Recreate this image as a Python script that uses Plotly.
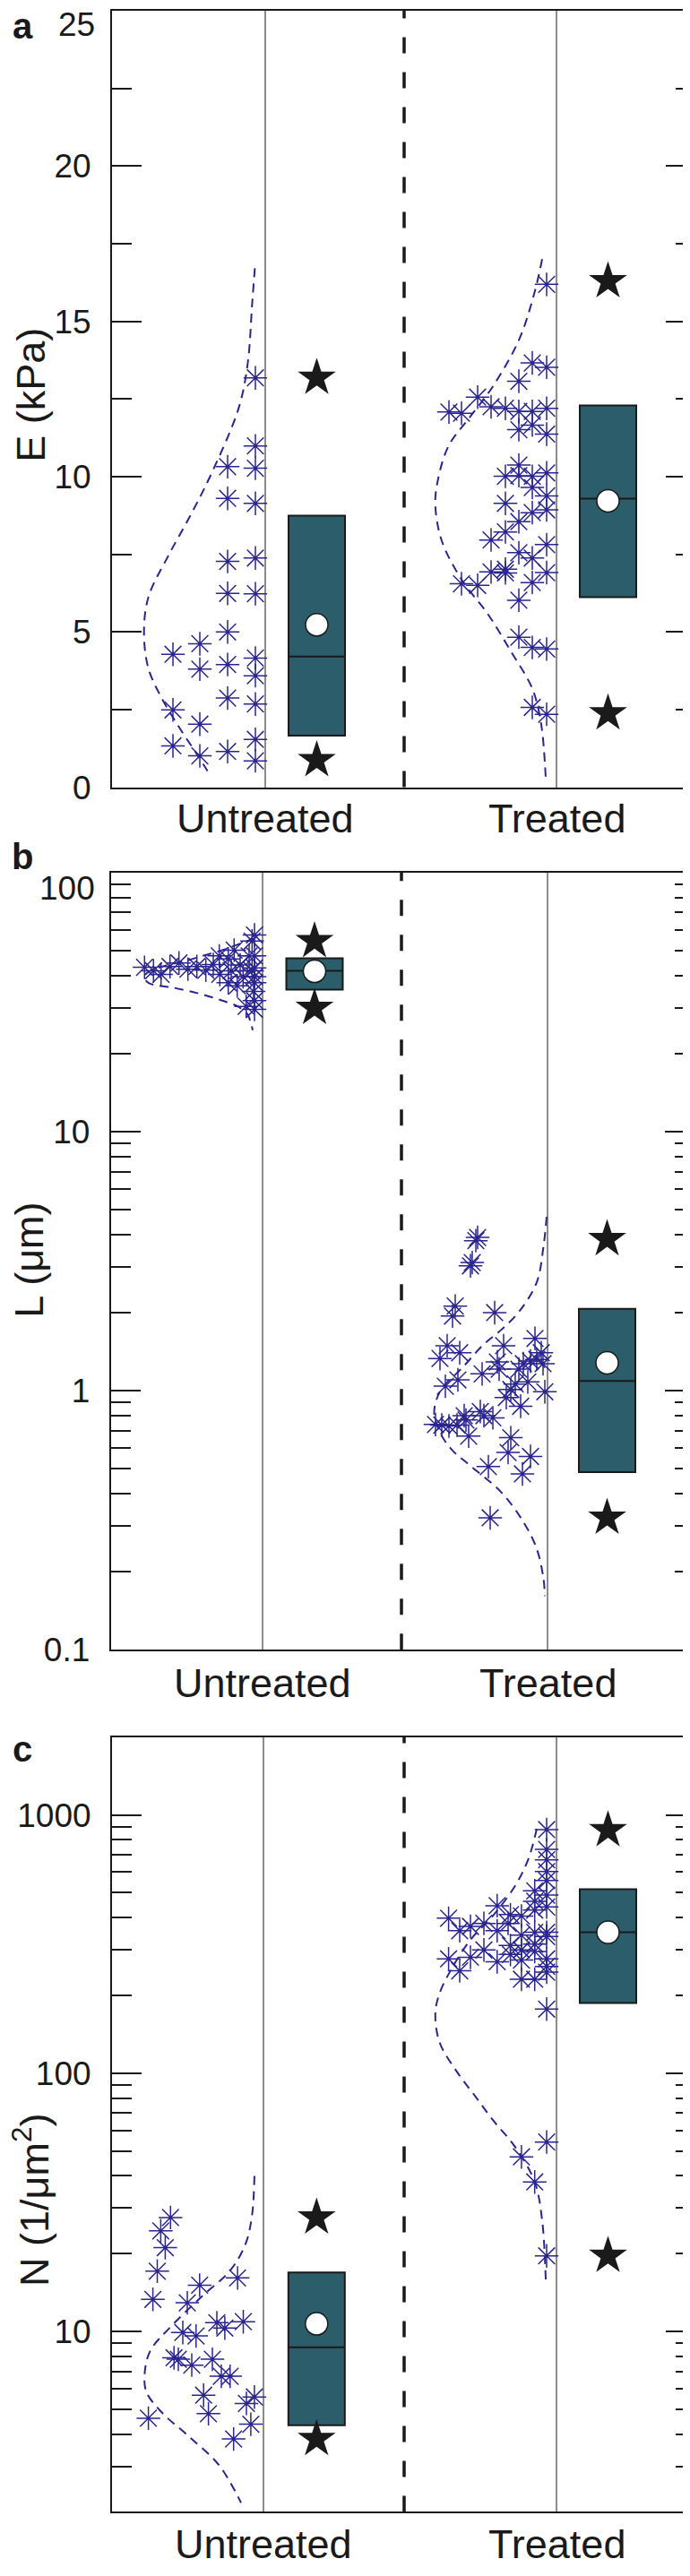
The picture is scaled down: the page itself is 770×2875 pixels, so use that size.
import numpy as np
import plotly.graph_objects as go

W, H = 770, 2875
categories = ["Untreated", "Treated"]

# ---------------- Panel a : E (kPa) ----------------
a_untr_vals = [13.18, 10.99, 10.32, 10.27, 9.30, 9.14, 7.27, 7.38, 6.24, 6.23, 5.00, 4.28, 4.62,
               3.80, 3.95, 4.16, 3.59, 2.87, 2.68, 2.49, 2.03, 1.33, 1.15, 1.54, 1.01, 0.85]
a_untr_jit = [-11, -11, -42, -11, -42, -11, -42, -11, -42, -11, -42, -103, -73,
              -73, -42, -11, -11, -42, -11, -103, -73, -103, -42, -11, -73, -11]
a_trt_vals = [16.19, 13.66, 13.52, 13.07, 12.56, 12.08, 12.04, 12.25, 12.20, 12.10, 12.10, 12.20,
              11.51, 11.66, 11.37, 10.37, 10.01, 10.03, 10.01, 10.12, 9.65, 9.38, 9.14, 8.93, 8.84,
              8.55, 8.22, 7.96, 7.81, 7.55, 7.38, 7.02, 6.93, 6.90, 6.91, 6.59, 6.55, 6.50, 6.02,
              4.83, 4.50, 4.45, 2.57, 2.35]
a_trt_jit = [-11, -27, -11, -42, -88, -120, -106, -73, -57, -42, -27, -11,
             -42, -27, -11, -42, -57, -42, -27, -11, -27, -11, -57, -11, -27,
             -42, -57, -73, -11, -42, -27, -57, -73, -57, -11, -27, -106, -88, -42,
             -42, -27, -11, -27, -11]
a_untr_curve_v = [16.71, 15.57, 13.66, 12.23, 10.32, 8.88, 7.45, 6.12, 4.97, 3.83, 2.87, 1.92, 1.06, 0.34]
a_untr_curve_w = [-11.6, -14.6, -19.5, -29.4, -56.5, -81.1, -108.2, -130.4, -135.3, -130.4, -115.6, -95.9, -76.2, -60.4]
a_trt_curve_v = [17.0, 15.95, 14.42, 12.9, 11.94, 10.99, 9.84, 9.08, 7.93, 6.69, 5.55, 4.40, 3.16, 2.01, 0.29]
a_trt_curve_w = [-16, -24.3, -41.6, -71.1, -96, -120.4, -132.7, -135.2, -128, -106, -76, -51.4, -26.8, -17, -12]
a_q1 = [1.66, 6.12]
a_median = [4.21, 9.29]
a_q3 = [8.74, 12.29]
a_mean = [5.23, 9.22]
a_star_hi = [13.18, 16.29]
a_star_lo = [0.87, 2.38]

# ---------------- Panel b : L (um) ----------------
b_untr_vals = [43.0, 41.7, 40.4, 43.3, 44.7, 42.3, 43.3, 41.9, 44.1, 47.6, 40.4, 46.3, 37.5, 41.7, 50.1,
               36.5, 43.9, 39.6, 30.4, 47.6, 54.3, 41.7, 34.7, 29.6, 39.6, 57.3, 47.6, 37.5, 32.0, 42.8]
b_untr_jit = [-131.7, -121.7, -113.3, -103.3, -93.3, -83.3, -73.3, -63.3, -55, -48.3, -47.7, -38.3, -38.3, -35, -31.7,
              -28.3, -25, -21.7, -18.3, -15, -11.7, -11.7, -10, -9, -9, -9, -9, -9, -9, -9]
b_trt_vals = [3.79, 3.90, 3.03, 3.12, 2.12, 1.94, 2.00, 1.59, 1.49, 1.40, 1.49, 1.33, 1.40, 1.32, 1.29,
              1.27, 1.30, 1.27, 1.21, 1.21, 1.16, 1.10, 1.04, 1.08, 1.06, 1.01, 0.99, 0.94, 0.87, 0.83,
              0.80, 0.785, 0.80, 0.77, 0.74, 0.736, 0.73, 0.736, 0.667, 0.658, 0.577, 0.557, 0.509, 0.477, 0.323]
b_trt_jit = [-80, -78, -86, -84, -103, -106, -59, -14, -112, -98, -49, -120, -7, -12, -56,
             -27, -19, -5, -54, -32, -73, -100, -114, -22, -36, -41, -3, -46, -30, -75,
             -93, -61, -71, -91, -125, -118, -110, -101, -88, -41, -44, -19, -66, -28, -64]
b_untr_curve_v = [55.6, 53.4, 50.2, 47.8, 45.6, 43.5, 41.4, 39.5, 37.4, 35.9, 34.0, 32.0, 30.3, 28.4, 26.2, 24.6]
b_untr_curve_w = [-9, -23, -44, -65, -85, -110, -127, -132, -127, -100, -70, -45, -27, -17, -13, -11]
b_trt_curve_v = [4.68, 3.60, 2.62, 2.02, 1.72, 1.51, 1.22, 1.02, 0.89, 0.80, 0.667, 0.585, 0.512, 0.404, 0.310, 0.245, 0.188, 0.161]
b_trt_curve_w = [-1, -4.5, -12, -31.6, -51.3, -71, -95.6, -117.8, -125.2, -126.2, -117.8, -105.5, -85.8, -51.3, -26.6, -12, -4.5, -3]
b_q1 = [35.3, 0.485]
b_median = [41.7, 1.09]
b_q3 = [46.6, 2.07]
b_mean = [41.5, 1.28]
b_star_hi = [54.3, 3.84]
b_star_lo = [30.0, 0.323]

# ---------------- Panel c : N (1/um^2) ----------------
c_untr_vals = [27.6, 24.5, 21.1, 17.1, 16.1, 15.1, 13.3, 12.9, 10.9, 10.8, 10.3, 9.9, 9.6, 7.9, 7.8, 7.4,
               7.8, 6.7, 6.7, 5.66, 5.57, 5.26, 4.61, 4.80, 4.37, 3.83]
c_untr_jit = [-103.7, -114.6, -109.6, -118.5, -28.9, -71.2, -123.4, -85, -22.5, -52, -43.1, -90, -75.2, -99.8, -95, -80,
              -57, -47, -37.2, -66.8, -10.1, -19, -128.4, -61.4, -14.1, -33.3]
c_trt_vals = [877, 735, 670, 603, 557, 489, 508, 463, 440, 445, 411, 406, 428, 398, 380, 380, 370, 356, 356,
              342, 351, 351, 338, 312, 316, 300, 300, 296, 277, 281, 270, 288, 277, 274, 259, 249, 246, 231,
              231, 177, 54.1, 47.4, 37.9, 19.6]
c_trt_jit = [-11, -11, -11, -11, -11, -11, -24.3, -24.3, -11, -66.2, -51.4, -39.1, -24.3, -120.4, -54, -81, -96,
             -108, -66.2, -39.1, -24.3, -11, -11, -51.4, -24.3, -81, -39.1, -24.3, -120.4, -96, -66.2, -51.4,
             -11, -39.1, -11, -108, -11, -39.1, -24.3, -11, -11, -39.1, -24.3, -11]
c_untr_curve_v = [40.0, 28.4, 21.8, 17.2, 13.6, 10.4, 8.46, 7.03, 5.85, 4.86, 3.94, 3.03, 2.17]
c_untr_curve_w = [-10.1, -12.6, -20, -37.2, -69.3, -103.7, -125.9, -132.3, -130.8, -113.6, -84, -49.5, -25]
c_trt_curve_v = [884, 670, 529, 406, 329, 259, 205, 170, 131, 100.5, 81.5, 65.9, 52.0, 37.9, 26.9, 15.9]
c_trt_curve_w = [-22, -31.7, -46.5, -71.1, -95.8, -115.5, -130.2, -135.2, -130.2, -110.5, -90.8, -71.1, -46.5, -24.3, -16, -12]
c_q1 = [4.33, 186.7]
c_median = [8.67, 351]
c_q3 = [16.9, 515]
c_mean = [10.7, 351]
c_star_hi = [27.6, 873]
c_star_lo = [3.83, 19.6]

# ---------------- styles / layout geometry (reference pixels) ----------------
NAVY = "#2a2590"
TEAL = "#2b5d6b"
INK = "#1a1a1a"
GRID = "#8c8c8c"
FONT = "Liberation Sans, Arial, Helvetica, sans-serif"

panels = [
    dict(key="a", left=117, right=768, top=4, bottom=877, cat=(288, 613), box=(345.5, 670.5), dash=443,
         ytype="linear", yrange=[0, 25], tickvals=[0, 5, 10, 15, 20], ticktext=["0", "5", "10", "15", "20"],
         minor=dict(dtick=2.5), toplabel="25", toplabel_y=20, title="E (kPa)", title_y=436, title_x=27,
         letter_y=21, catlabel_y=912.5,
         untr=(a_untr_vals, a_untr_jit, a_untr_curve_v, a_untr_curve_w),
         trt=(a_trt_vals, a_trt_jit, a_trt_curve_v, a_trt_curve_w),
         stats=(a_q1, a_median, a_q3, a_mean, a_star_hi, a_star_lo)),
    dict(key="b", left=115.7, right=767, top=972.7, bottom=1846.7, cat=(285, 603), box=(343, 669.5), dash=440,
         ytype="log", yrange=[-1, 2], tickvals=[0.1, 1, 10], ticktext=["0.1", "1", "10"],
         minor=dict(tickmode="array", tickvals=[m * d for d in (0.1, 1, 10) for m in range(2, 10)]),
         toplabel="100", toplabel_y=990.7, title="L (μm)", title_y=1409, title_x=25, letter_y=955,
         catlabel_y=1884,
         untr=(b_untr_vals, b_untr_jit, b_untr_curve_v, b_untr_curve_w),
         trt=(b_trt_vals, b_trt_jit, b_trt_curve_v, b_trt_curve_w),
         stats=(b_q1, b_median, b_q3, b_mean, b_star_hi, b_star_lo)),
    dict(key="c", left=117, right=768, top=1945, bottom=2816, cat=(286, 613), box=(345.3, 670.5), dash=443,
         ytype="log", yrange=[np.log10(2), np.log10(2000)], tickvals=[10, 100, 1000], ticktext=["10", "100", "1000"],
         minor=dict(tickmode="array", tickvals=[m * d for d in (1, 10, 100) for m in range(2, 10) if 2 < m * d < 2000]),
         toplabel=None, toplabel_y=None, title="N (1/μm<sup>2</sup>)", title_y=2466, title_x=27, letter_y=1958,
         catlabel_y=2852,
         untr=(c_untr_vals, c_untr_jit, c_untr_curve_v, c_untr_curve_w),
         trt=(c_trt_vals, c_trt_jit, c_trt_curve_v, c_trt_curve_w),
         stats=(c_q1, c_median, c_q3, c_mean, c_star_hi, c_star_lo)),
]


def px(xp):
    return xp / W


def py(yp):
    return 1 - yp / H


fig = go.Figure()
layout = dict(width=W, height=H, margin=dict(l=0, r=0, t=0, b=0), paper_bgcolor="white",
              plot_bgcolor="white", showlegend=False, shapes=[], annotations=[],
              font=dict(family=FONT, color=INK))

for i, p in enumerate(panels):
    n = "" if i == 0 else str(i + 1)
    xa, ya = "x" + n, "y" + n
    c0, c1 = p["cat"]
    s = c1 - c0  # reference px per category unit
    xr = [(p["left"] - c0) / s, (p["right"] - c0) / s]

    for g, grp in enumerate([p["untr"], p["trt"]]):
        vals, jit, cv, cw = grp
        fig.add_trace(go.Scatter(x=g + np.array(cw) / s, y=cv, mode="lines", xaxis=xa, yaxis=ya,
                                 line=dict(color=NAVY, width=2, dash="10px,7px", shape="spline"),
                                 hoverinfo="skip"))
        fig.add_trace(go.Scatter(x=g + np.array(jit) / s, y=vals, mode="markers", xaxis=xa, yaxis=ya,
                                 marker=dict(symbol="asterisk-open", size=22, color=NAVY,
                                             line=dict(color=NAVY, width=1.5))))

    q1, med, q3, mean, shi, slo = p["stats"]
    bx = [(p["box"][0] - c0) / s, (p["box"][1] - c0) / s]
    fig.add_trace(go.Box(x=bx, q1=q1, median=med, q3=q3, lowerfence=q1, upperfence=q3,
                         width=63 / s, whiskerwidth=0, boxpoints=False, fillcolor=TEAL,
                         line=dict(color=INK, width=2), xaxis=xa, yaxis=ya, hoverinfo="skip"))
    fig.add_trace(go.Scatter(x=bx, y=mean, mode="markers", xaxis=xa, yaxis=ya,
                             marker=dict(symbol="circle", size=25, color="white",
                                         line=dict(color=INK, width=1.5))))
    fig.add_trace(go.Scatter(x=bx + bx, y=list(shi) + list(slo), mode="markers", xaxis=xa, yaxis=ya,
                             marker=dict(symbol="star", size=32, color=INK, line=dict(width=0))))

    layout["xaxis" + n] = dict(domain=[px(p["left"]), px(p["right"])], range=xr, anchor=ya,
                               tickmode="array", tickvals=[0, 1], showticklabels=False,
                               showgrid=True, gridcolor=GRID, gridwidth=1.5, zeroline=False,
                               showline=True, linecolor=INK, linewidth=2, mirror=True, ticks="",
                               fixedrange=True)
    minor = dict(ticks="inside", ticklen=22, tickwidth=2, tickcolor=INK, showgrid=False)
    minor.update(p["minor"])
    layout["yaxis" + n] = dict(domain=[py(p["bottom"]), py(p["top"])], type=p["ytype"], range=p["yrange"],
                               anchor=xa, tickmode="array", tickvals=p["tickvals"], ticktext=p["ticktext"],
                               ticks="inside", ticklen=33, tickwidth=2, tickcolor=INK,
                               showline=True, linecolor=INK, linewidth=2, mirror="ticks",
                               showgrid=False, zeroline=False, minor=minor,
                               tickfont=dict(size=37, color=INK, family=FONT), ticklabelstandoff=14,
                               fixedrange=True)
    layout["shapes"].append(dict(type="line", xref=xa, yref=ya + " domain",
                                 x0=(p["dash"] - c0) / s, x1=(p["dash"] - c0) / s, y0=0, y1=1,
                                 line=dict(color=INK, width=3.5, dash="18px,21px"), layer="above"))
    for g, cat in enumerate(categories):
        layout["annotations"].append(dict(text=cat, xref=xa, yref="paper", x=g, y=py(p["catlabel_y"]),
                                          xanchor="center", yanchor="middle", showarrow=False,
                                          font=dict(size=45, color=INK, family=FONT)))
    if p["toplabel"]:
        layout["annotations"].append(dict(text=p["toplabel"], xref="paper", yref="paper",
                                          x=px(100), y=py(p["toplabel_y"]), xanchor="right", yanchor="middle",
                                          showarrow=False, font=dict(size=37, color=INK, family=FONT)))
    layout["annotations"].append(dict(text=p["title"], xref="paper", yref="paper", textangle=-90,
                                      x=px(p["title_x"]), y=py(p["title_y"]), xanchor="center",
                                      yanchor="middle", showarrow=False,
                                      font=dict(size=45, color=INK, family=FONT)))
    layout["annotations"].append(dict(text="<b>" + p["key"] + "</b>", xref="paper", yref="paper",
                                      x=px(17), y=py(p["letter_y"]), xanchor="center", yanchor="middle",
                                      showarrow=False, font=dict(size=40, color=INK, family=FONT)))

fig.update_layout(**layout)
fig.write_html("out.html")
